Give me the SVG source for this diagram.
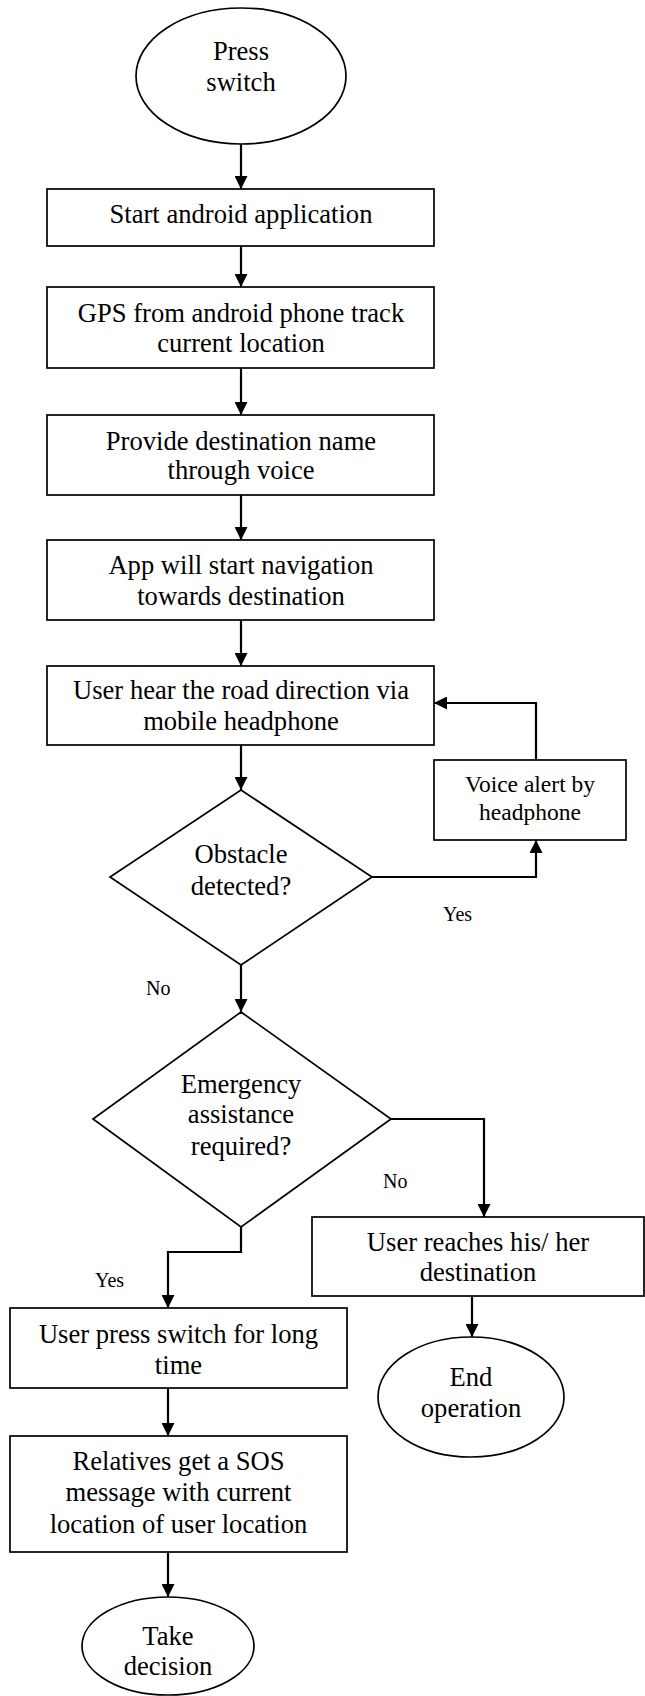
<svg xmlns="http://www.w3.org/2000/svg" width="645" height="1696" viewBox="0 0 645 1696">
<defs>
<style>
.s{fill:#fff;stroke:#000;stroke-width:1.7}
.t{font-family:"Liberation Serif","Times New Roman",serif;font-size:26.6px;fill:#000;text-anchor:middle}
.v{font-family:"Liberation Serif","Times New Roman",serif;font-size:23.5px;fill:#000;text-anchor:middle}
.l{font-family:"Liberation Serif","Times New Roman",serif;font-size:20px;fill:#000}
.c{fill:none;stroke:#000;stroke-width:2.2;marker-end:url(#ah)}
</style>
<marker id="ah" viewBox="0 0 14 14" refX="14" refY="7" markerWidth="14" markerHeight="13" markerUnits="userSpaceOnUse" orient="auto">
<path d="M0,0 L14,7 L0,14 z" fill="#000"/>
</marker>
</defs>
<rect width="645" height="1696" fill="#fff"/>
<g id="connectors">
<path class="c" d="M241,144 V189"/>
<path class="c" d="M241,246 V287"/>
<path class="c" d="M241,368 V415"/>
<path class="c" d="M241,495 V540"/>
<path class="c" d="M241,620 V666"/>
<path class="c" d="M241,745 V790"/>
<path class="c" d="M372,877 H536 V840"/>
<path class="c" d="M536,760 V703 H434"/>
<path class="c" d="M241,965 V1012"/>
<path class="c" d="M391,1119 H484 V1217"/>
<path class="c" d="M241,1227 V1252 H168 V1308"/>
<path class="c" d="M168,1388 V1436"/>
<path class="c" d="M168,1552 V1597"/>
<path class="c" d="M472,1296 V1337"/>
</g>
<g id="labels">
<text class="l" x="443" y="921">Yes</text>
<text class="l" x="146" y="995">No</text>
<text class="l" x="383" y="1188">No</text>
<text class="l" x="95" y="1287">Yes</text>
</g>
<g id="start">
<ellipse class="s" cx="241" cy="76" rx="105" ry="68"/>
<text class="t" x="241" y="60">Press</text>
<text class="t" x="241" y="91">switch</text>
</g>
<g id="startApp">
<rect class="s" x="47" y="189" width="387" height="57"/>
<text class="t" x="241" y="223">Start android application</text>
</g>
<g id="gps">
<rect class="s" x="47" y="287" width="387" height="81"/>
<text class="t" x="241" y="322">GPS from android phone track</text>
<text class="t" x="241" y="352">current location</text>
</g>
<g id="destVoice">
<rect class="s" x="47" y="415" width="387" height="80"/>
<text class="t" x="241" y="450">Provide destination name</text>
<text class="t" x="241" y="479">through voice</text>
</g>
<g id="navigate">
<rect class="s" x="47" y="540" width="387" height="80"/>
<text class="t" x="241" y="574">App will start navigation</text>
<text class="t" x="241" y="605">towards destination</text>
</g>
<g id="hear">
<rect class="s" x="47" y="666" width="387" height="79"/>
<text class="t" x="241" y="699">User hear the road direction via</text>
<text class="t" x="241" y="730">mobile headphone</text>
</g>
<g id="voiceAlert">
<rect class="s" x="434" y="760" width="192" height="80"/>
<text class="v" x="530" y="792">Voice alert by</text>
<text class="v" x="530" y="820">headphone</text>
</g>
<g id="obstacle">
<polygon class="s" points="241,790 372,877 241,965 110,877"/>
<text class="t" x="241" y="863">Obstacle</text>
<text class="t" x="241" y="895">detected?</text>
</g>
<g id="emergency">
<polygon class="s" points="241,1012 391,1119 241,1227 93,1119"/>
<text class="t" x="241" y="1093">Emergency</text>
<text class="t" x="241" y="1123">assistance</text>
<text class="t" x="241" y="1155">required?</text>
</g>
<g id="reaches">
<rect class="s" x="312" y="1217" width="332" height="79"/>
<text class="t" x="478" y="1251">User reaches his/ her</text>
<text class="t" x="478" y="1281">destination</text>
</g>
<g id="endOp">
<ellipse class="s" cx="471" cy="1397" rx="93" ry="60"/>
<text class="t" x="471" y="1386">End</text>
<text class="t" x="471" y="1417">operation</text>
</g>
<g id="longPress">
<rect class="s" x="10" y="1308" width="337" height="80"/>
<text class="t" x="178.5" y="1343">User press switch for long</text>
<text class="t" x="178.5" y="1374">time</text>
</g>
<g id="sos">
<rect class="s" x="10" y="1436" width="337" height="116"/>
<text class="t" x="178.5" y="1470">Relatives get a SOS</text>
<text class="t" x="178.5" y="1501">message with current</text>
<text class="t" x="178.5" y="1533">location of user location</text>
</g>
<g id="decision">
<ellipse class="s" cx="168" cy="1646" rx="86" ry="49"/>
<text class="t" x="168" y="1645">Take</text>
<text class="t" x="168" y="1675">decision</text>
</g>
</svg>
